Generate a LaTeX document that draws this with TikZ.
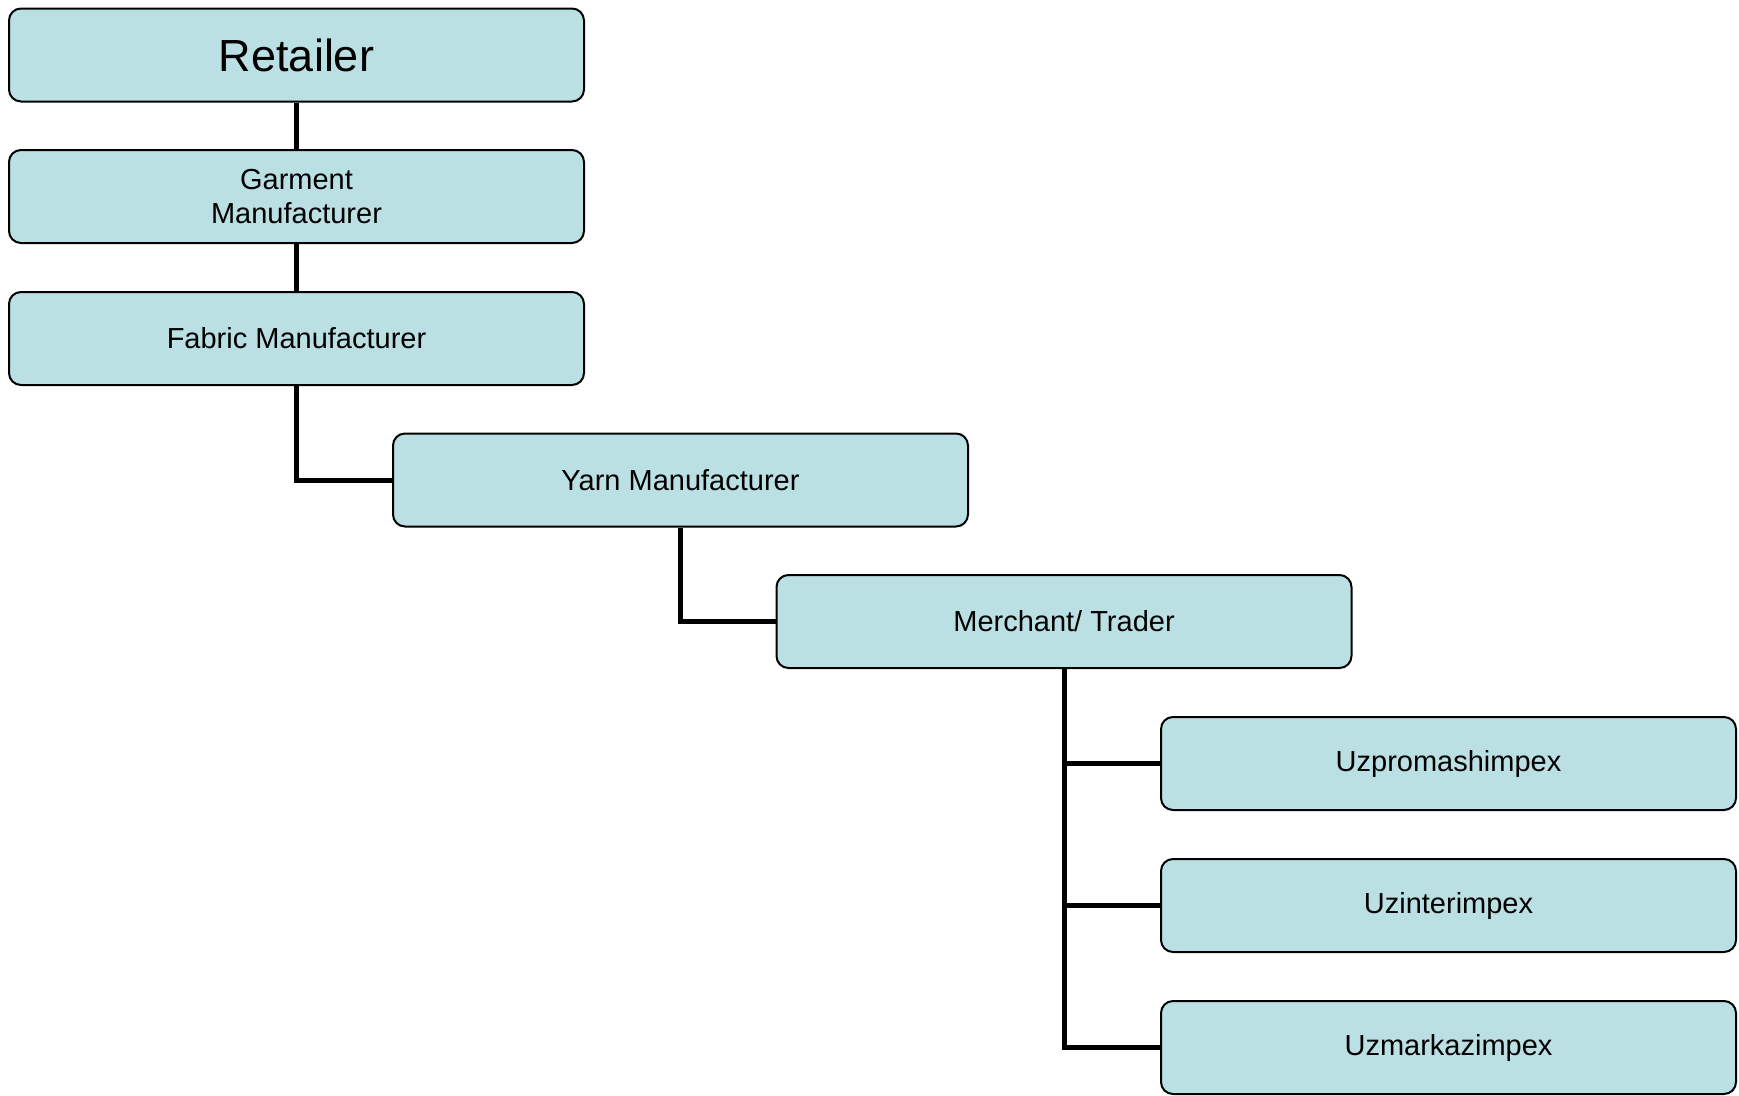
\documentclass[tikz,border=0pt]{standalone}
\usepackage{fontspec}
\setmainfont{Liberation Sans}
\definecolor{boxfill}{HTML}{BBE0E3}
\begin{document}
\begin{tikzpicture}[x=1pt,y=-1pt,
  box/.style={draw=black,line width=2pt,fill=boxfill,rounded corners=12pt,
    minimum width=575pt,minimum height=93pt,inner sep=0pt,align=center,
    font=\fontsize{29}{34.5}\selectfont},
  link/.style={line width=5pt,draw=black}]
\useasboundingbox (0,0) rectangle (1739,1095);
\node[box,font=\fontsize{45}{50}\selectfont] (ret) at (296.5,55) {Retailer};
\node[box] (gar) at (296.5,196.5) {Garment\\Manufacturer};
\node[box] (fab) at (296.5,338.5) {Fabric Manufacturer};
\node[box] (yarn) at (680.5,480) {Yarn Manufacturer};
\node[box] (mer) at (1064,621.5) {Merchant/ Trader};
\node[box] (uz1) at (1448.5,763.5) {Uzpromashimpex};
\node[box] (uz2) at (1448.5,905.5) {Uzinterimpex};
\node[box] (uz3) at (1448.5,1047.5) {Uzmarkazimpex};
\draw[link] (ret.south) -- (gar.north);
\draw[link] (gar.south) -- (fab.north);
\draw[link] (fab.south) |- (yarn.west);
\draw[link] (yarn.south) |- (mer.west);
\draw[link] (mer.south) |- (uz1.west);
\draw[link] (mer.south) |- (uz2.west);
\draw[link] (mer.south) |- (uz3.west);
\end{tikzpicture}
\end{document}
